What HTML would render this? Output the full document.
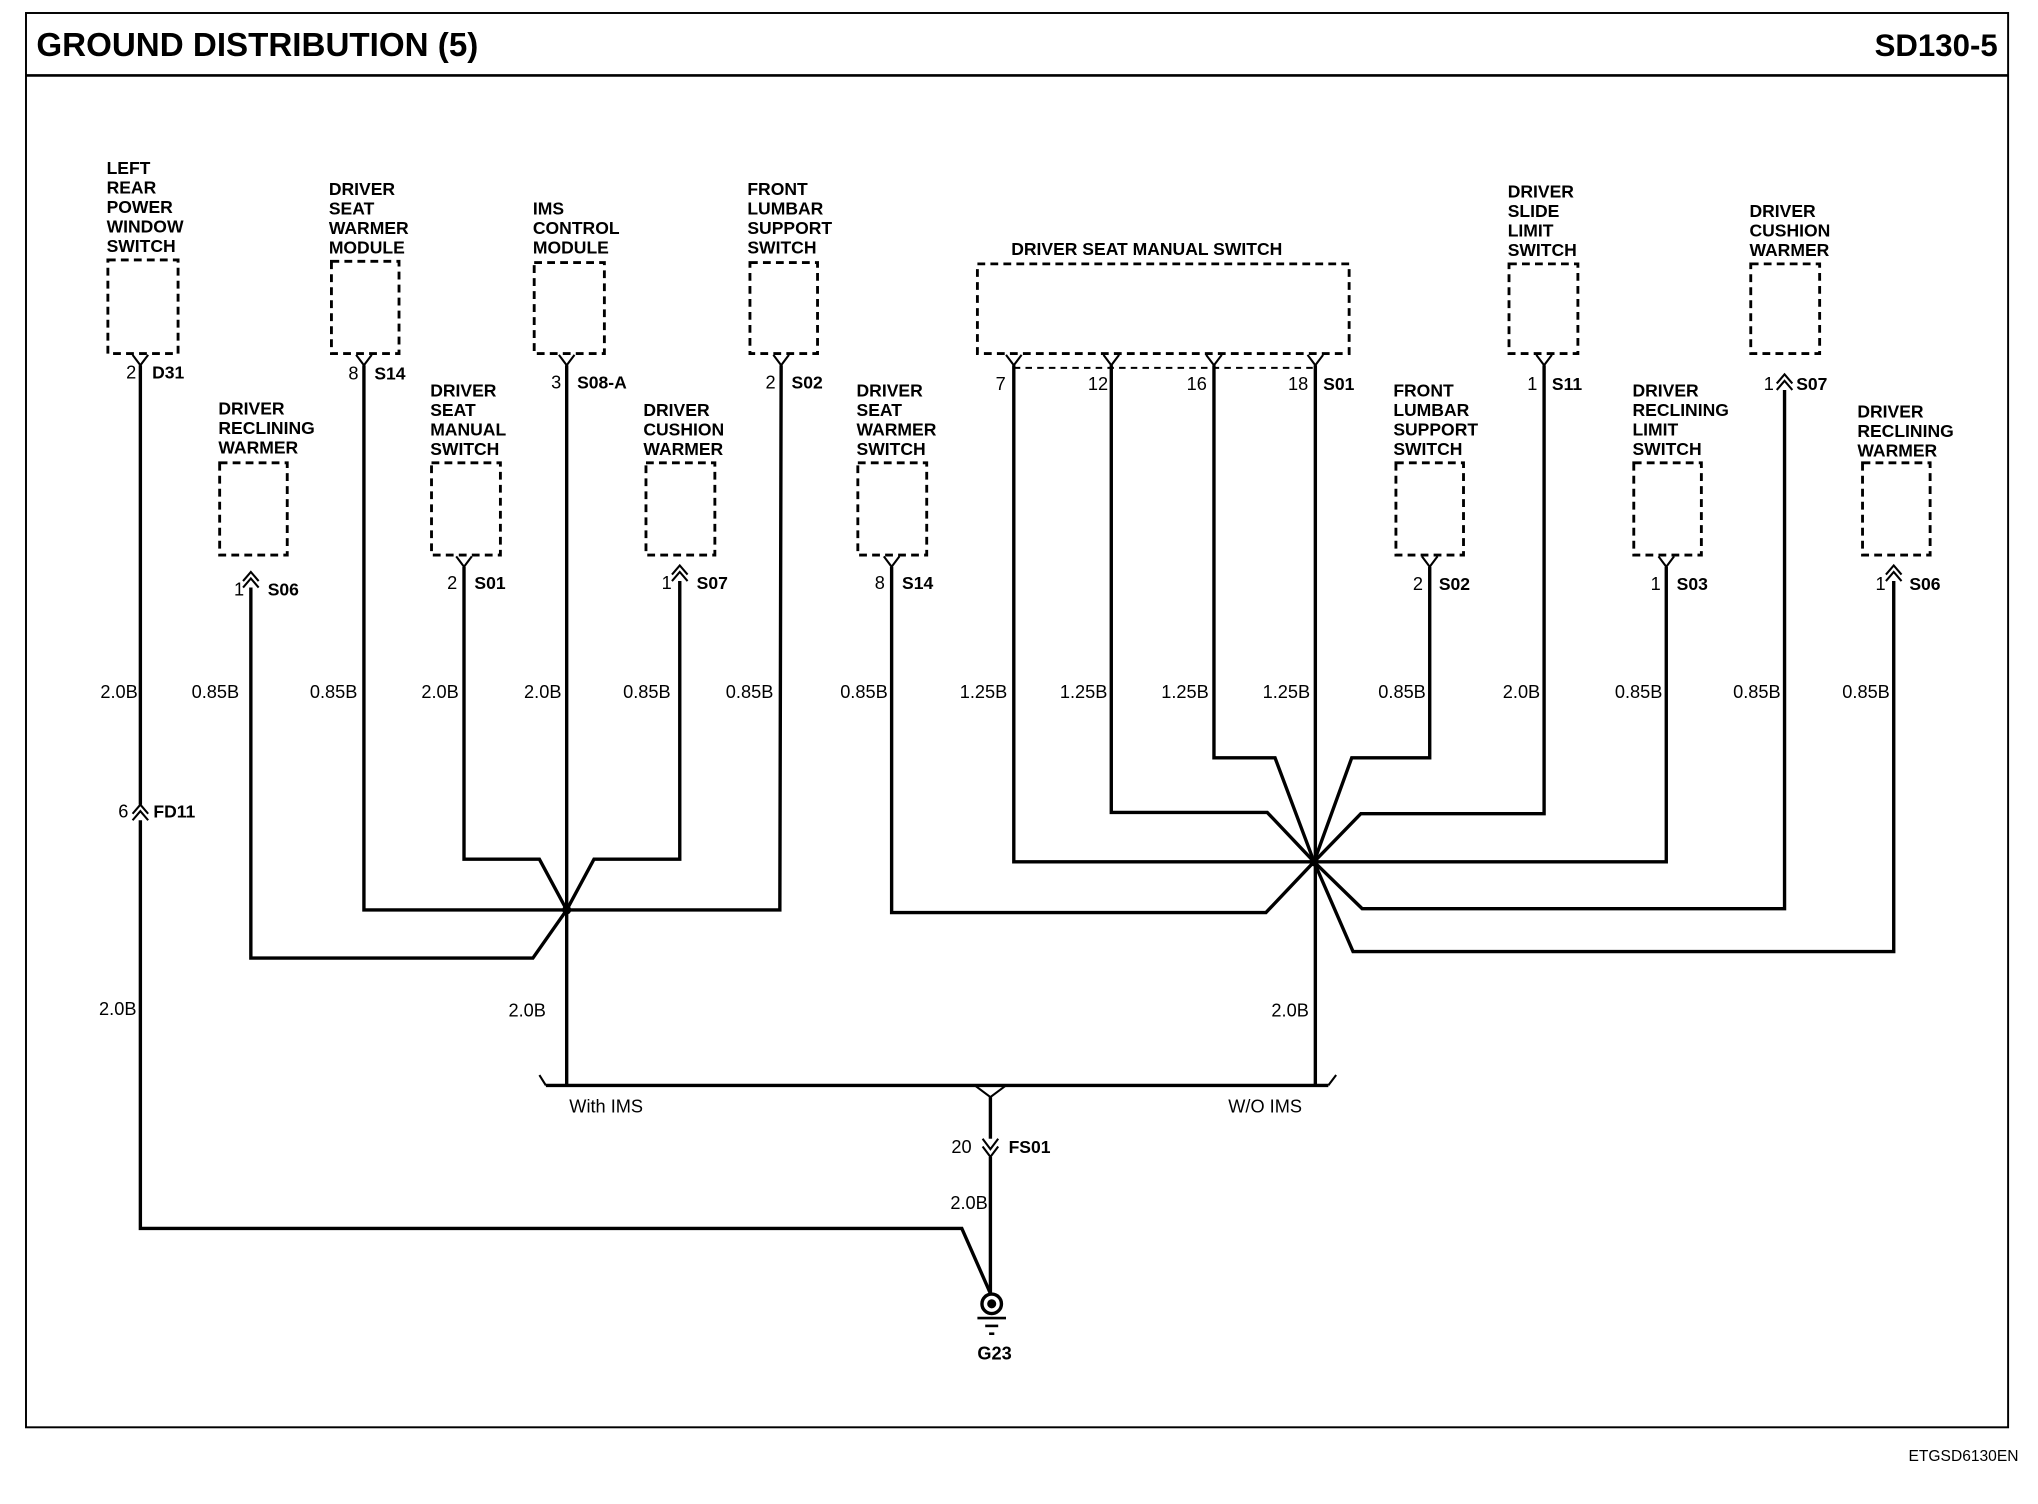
<!DOCTYPE html>
<html><head><meta charset="utf-8"><style>
html,body{margin:0;padding:0;background:#fff;}
svg{display:block;}
text{font-family:"Liberation Sans",Arial,sans-serif;fill:#000;}
.b{font-weight:bold;font-size:13.5px;}
.n{font-size:14px;}
.w{font-size:14px;text-anchor:end;}
.bx{fill:none;stroke:#000;stroke-width:2.2;stroke-dasharray:6,4;}
.wr{fill:none;stroke:#000;stroke-width:2.6;}
.c{fill:none;stroke:#000;stroke-width:1.6;}
</style></head><body>
<svg width="2038" height="1504" viewBox="0 0 1568 1157" preserveAspectRatio="none" xmlns="http://www.w3.org/2000/svg">
<rect x="0" y="0" width="1568" height="1157" fill="#fff"/>
<rect x="20" y="10" width="1525" height="1088" fill="none" stroke="#000" stroke-width="1.5"/>
<line x1="20" y1="58" x2="1545" y2="58" stroke="#000" stroke-width="2"/>
<text x="28" y="43" style="font-weight:bold;font-size:25.5px" textLength="340">GROUND DISTRIBUTION (5)</text>
<text x="1537" y="43" style="font-weight:bold;font-size:24px;text-anchor:end">SD130-5</text>
<text x="1553" y="1124" style="font-size:12px;text-anchor:end">ETGSD6130EN</text>

<g class="b">
<text x="82" y="134">LEFT</text><text x="82" y="149">REAR</text><text x="82" y="164">POWER</text><text x="82" y="179">WINDOW</text><text x="82" y="194">SWITCH</text>
<text x="253" y="150">DRIVER</text><text x="253" y="165">SEAT</text><text x="253" y="180">WARMER</text><text x="253" y="195">MODULE</text>
<text x="410" y="165">IMS</text><text x="410" y="180">CONTROL</text><text x="410" y="195">MODULE</text>
<text x="575" y="150">FRONT</text><text x="575" y="165">LUMBAR</text><text x="575" y="180">SUPPORT</text><text x="575" y="195">SWITCH</text>
<text x="778" y="196">DRIVER SEAT MANUAL SWITCH</text>
<text x="1160" y="152">DRIVER</text><text x="1160" y="167">SLIDE</text><text x="1160" y="182">LIMIT</text><text x="1160" y="197">SWITCH</text>
<text x="1346" y="167">DRIVER</text><text x="1346" y="182">CUSHION</text><text x="1346" y="197">WARMER</text>
<text x="168" y="319">DRIVER</text><text x="168" y="334">RECLINING</text><text x="168" y="349">WARMER</text>
<text x="331" y="305">DRIVER</text><text x="331" y="320">SEAT</text><text x="331" y="335">MANUAL</text><text x="331" y="350">SWITCH</text>
<text x="495" y="320">DRIVER</text><text x="495" y="335">CUSHION</text><text x="495" y="350">WARMER</text>
<text x="659" y="305">DRIVER</text><text x="659" y="320">SEAT</text><text x="659" y="335">WARMER</text><text x="659" y="350">SWITCH</text>
<text x="1072" y="305">FRONT</text><text x="1072" y="320">LUMBAR</text><text x="1072" y="335">SUPPORT</text><text x="1072" y="350">SWITCH</text>
<text x="1256" y="305">DRIVER</text><text x="1256" y="320">RECLINING</text><text x="1256" y="335">LIMIT</text><text x="1256" y="350">SWITCH</text>
<text x="1429" y="321">DRIVER</text><text x="1429" y="336">RECLINING</text><text x="1429" y="351">WARMER</text>
</g>

<rect class="bx" x="83" y="200" width="54" height="72"/>
<rect class="bx" x="255" y="201" width="52" height="71"/>
<rect class="bx" x="411" y="202" width="54" height="70"/>
<rect class="bx" x="577" y="202" width="52" height="70"/>
<rect class="bx" x="752" y="203" width="286" height="69"/>
<rect class="bx" x="1161" y="203" width="53" height="69"/>
<rect class="bx" x="1347" y="203" width="53" height="69"/>
<rect class="bx" x="169" y="356" width="52" height="71"/>
<rect class="bx" x="332" y="356" width="53" height="71"/>
<rect class="bx" x="497" y="356" width="53" height="71"/>
<rect class="bx" x="660" y="356" width="53" height="71"/>
<rect class="bx" x="1074" y="356" width="52" height="71"/>
<rect class="bx" x="1257" y="356" width="52" height="71"/>
<rect class="bx" x="1433" y="356" width="52" height="71"/>
<line x1="780" y1="283" x2="1012" y2="283" stroke="#000" stroke-width="1.5" stroke-dasharray="5,4"/>

<g class="c">
<polyline points="102,273 108,281 114,273"/>
<polyline points="274,273 280,281 286,273"/>
<polyline points="430,273 436,281 442,273"/>
<polyline points="595,273 601,281 607,273"/>
<polyline points="774,273 780,281 786,273"/>
<polyline points="849,273 855,281 861,273"/>
<polyline points="928,273 934,281 940,273"/>
<polyline points="1006,273 1012,281 1018,273"/>
<polyline points="1182,273 1188,281 1194,273"/>
<polyline points="351,428 357,436 363,428"/>
<polyline points="680,428 686,436 692,428"/>
<polyline points="1094,428 1100,436 1106,428"/>
<polyline points="1276,428 1282,436 1288,428"/>
<polyline points="187,452 193,445 199,452"/><polyline points="187,447 193,440 199,447"/>
<polyline points="517,447 523,440 529,447"/><polyline points="517,442 523,435 529,442"/>
<polyline points="1451,447 1457,440 1463,447"/><polyline points="1451,442 1457,435 1463,442"/>
<polyline points="1367,300 1373,293 1379,300"/><polyline points="1367,295 1373,288 1379,295"/>
<polyline points="102,631 108,624 114,631"/><polyline points="102,626 108,619 114,626"/>
<polyline points="756,876 762,884 768,876"/><polyline points="756,882 762,890 768,882"/>
<polyline points="415,827 420,835"/><polyline points="1028,827 1022,835"/>
<polyline points="750,835 762,844 774,835"/>
</g>

<g class="n">
<text x="97" y="291">2</text><text x="117" y="291" class="b">D31</text>
<text x="268" y="292">8</text><text x="288" y="292" class="b">S14</text>
<text x="424" y="299">3</text><text x="444" y="299" class="b">S08-A</text>
<text x="589" y="299">2</text><text x="609" y="299" class="b">S02</text>
<text x="766" y="300">7</text>
<text x="837" y="300">12</text>
<text x="913" y="300">16</text>
<text x="991" y="300">18</text><text x="1018" y="300" class="b">S01</text>
<text x="1175" y="300">1</text><text x="1194" y="300" class="b">S11</text>
<text x="1357" y="300">1</text><text x="1382" y="300" class="b">S07</text>
<text x="180" y="458">1</text><text x="206" y="458" class="b">S06</text>
<text x="344" y="453">2</text><text x="365" y="453" class="b">S01</text>
<text x="509" y="453">1</text><text x="536" y="453" class="b">S07</text>
<text x="673" y="453">8</text><text x="694" y="453" class="b">S14</text>
<text x="1087" y="454">2</text><text x="1107" y="454" class="b">S02</text>
<text x="1270" y="454">1</text><text x="1290" y="454" class="b">S03</text>
<text x="1443" y="454">1</text><text x="1469" y="454" class="b">S06</text>
<text x="91" y="629">6</text><text x="118" y="629" class="b">FD11</text>
<text x="732" y="887">20</text><text x="776" y="887" class="b">FS01</text>
<text x="438" y="856">With IMS</text>
<text x="945" y="856">W/O IMS</text>
<text x="752" y="1046" class="b" style="font-size:14px">G23</text>
</g>

<g class="w">
<text x="106" y="537">2.0B</text>
<text x="184" y="537">0.85B</text>
<text x="275" y="537">0.85B</text>
<text x="353" y="537">2.0B</text>
<text x="432" y="537">2.0B</text>
<text x="516" y="537">0.85B</text>
<text x="595" y="537">0.85B</text>
<text x="683" y="537">0.85B</text>
<text x="775" y="537">1.25B</text>
<text x="852" y="537">1.25B</text>
<text x="930" y="537">1.25B</text>
<text x="1008" y="537">1.25B</text>
<text x="1097" y="537">0.85B</text>
<text x="1185" y="537">2.0B</text>
<text x="1279" y="537">0.85B</text>
<text x="1370" y="537">0.85B</text>
<text x="1454" y="537">0.85B</text>
<text x="105" y="781">2.0B</text>
<text x="420" y="782">2.0B</text>
<text x="1007" y="782">2.0B</text>
<text x="760" y="930">2.0B</text>
</g>

<g class="wr">
<polyline points="108,281 108,619"/>
<polyline points="108,631 108,945 740,945 762,995"/>
<polyline points="280,281 280,700 600,700 601,281"/>
<polyline points="436,281 436,835"/>
<polyline points="193,452 193,737 410,737 436,700"/>
<polyline points="357,436 357,661 415,661 436,700"/>
<polyline points="523,447 523,661 457,661 436,700"/>
<polyline points="420,835 1022,835"/>
<polyline points="762,844 762,876"/>
<polyline points="762,890 762,995"/>
<polyline points="1012,281 1012,835"/>
<polyline points="780,281 780,663 1282,663 1282,436"/>
<polyline points="855,281 855,625 975,625 1011,663"/>
<polyline points="934,281 934,583 981,583 1011,663"/>
<polyline points="1100,436 1100,583 1040,583 1011,663"/>
<polyline points="1188,281 1188,626 1047,626 1011,663"/>
<polyline points="686,436 686,702 974,702 1011,663"/>
<polyline points="1373,300 1373,699 1048,699 1011,663"/>
<polyline points="1457,447 1457,732 1041,732 1011,663"/>
</g>
<circle cx="436" cy="700" r="3.5" fill="#000"/>
<circle cx="1011" cy="663" r="3.5" fill="#000"/>
<circle cx="763" cy="1003" r="7.5" fill="none" stroke="#000" stroke-width="2.6"/>
<circle cx="763" cy="1003" r="3.5" fill="#000"/>
<line x1="752" y1="1014" x2="774" y2="1014" stroke="#000" stroke-width="2"/>
<line x1="758" y1="1020" x2="768" y2="1020" stroke="#000" stroke-width="2"/>
<line x1="761" y1="1026" x2="765" y2="1026" stroke="#000" stroke-width="2"/>
</svg>
</body></html>
